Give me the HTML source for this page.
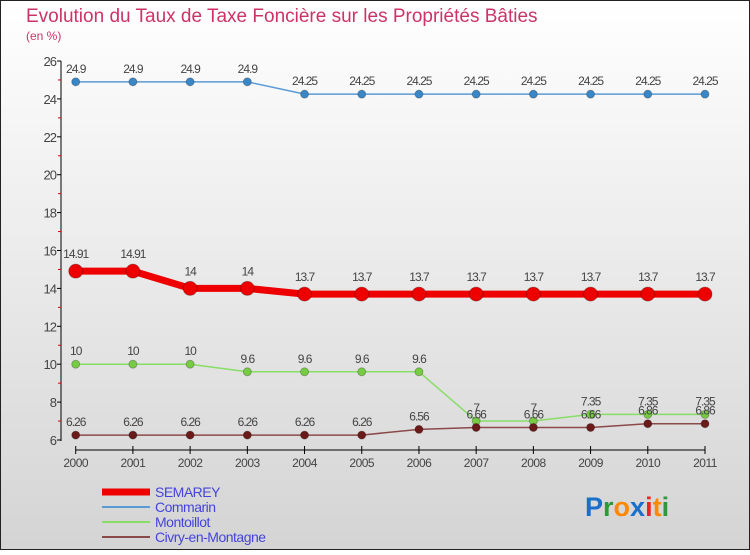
<!DOCTYPE html>
<html><head><meta charset="utf-8"><style>
body{margin:0;width:750px;height:550px;overflow:hidden;font-family:"Liberation Sans","DejaVu Sans",sans-serif}
</style></head><body>
<svg id="c" width="750" height="550" xmlns="http://www.w3.org/2000/svg">
<defs><linearGradient id="bg" x1="0" y1="0" x2="0" y2="1"><stop offset="0" stop-color="#ffffff"/><stop offset="1" stop-color="#d4d4d4"/></linearGradient></defs>
<rect x="0.5" y="0.5" width="749" height="549" fill="url(#bg)" stroke="#222"/>
<text x="26" y="22" font-size="19" fill="#cc3366">Evolution du Taux de Taxe Foncière sur les Propriétés Bâties</text>
<text x="26" y="40" font-size="12" fill="#cc3366">(en %)</text>
<g id="axes"></g><g id="series"></g><g id="legend"></g>
<text x="585" y="516" font-size="27" font-weight="bold"><tspan fill="#1a6fcc">P</tspan><tspan fill="#2a9a3a">r</tspan><tspan fill="#ff8800">o</tspan><tspan fill="#1a6fcc">x</tspan><tspan fill="#ee2222">i</tspan><tspan fill="#ff8800">t</tspan><tspan fill="#2a9a3a">i</tspan></text>
</svg>
<script>
const years=["2000","2001","2002","2003","2004","2005","2006","2007","2008","2009","2010","2011"];
const yTicks=[6,8,10,12,14,16,18,20,22,24,26];
const semarey=[14.91,14.91,14,14,13.7,13.7,13.7,13.7,13.7,13.7,13.7,13.7];
const commarin=[24.9,24.9,24.9,24.9,24.25,24.25,24.25,24.25,24.25,24.25,24.25,24.25];
const montoillot=[10,10,10,9.6,9.6,9.6,9.6,7,7,7.35,7.35,7.35];
const civry=[6.26,6.26,6.26,6.26,6.26,6.26,6.56,6.66,6.66,6.66,6.86,6.86];
const NS="http://www.w3.org/2000/svg";
const X=i=>75.7+i*(705-75.7)/11;
const Y=v=>440-(v-6)*(440-61)/20;
function mk(t,a,p){const e=document.createElementNS(NS,t);for(const k in a)e.setAttribute(k,a[k]);p.appendChild(e);return e;}
const ax=document.getElementById('axes');
const yl=mk('line',{x1:61,y1:61,x2:61,y2:441,stroke:'#000'},ax);


for(let v=7;v<26;v+=2){mk('line',{x1:58,x2:61,y1:Y(v),y2:Y(v),stroke:'#d00'},ax);}
yTicks.forEach(v=>{mk('line',{x1:57,x2:61,y1:Y(v),y2:Y(v),stroke:'#000'},ax);
const t=mk('text',{x:56,y:Y(v)+5,'font-size':13,'text-anchor':'end',fill:'#444','letter-spacing':'-1'},ax);t.textContent=v;

});
const xl=mk('line',{x1:X(0),y1:450,x2:X(11),y2:450,stroke:'#000'},ax);


years.forEach((y,i)=>{mk('line',{x1:X(i),x2:X(i),y1:446,y2:454,stroke:'#000'},ax);
const t=mk('text',{x:X(i),y:467,'font-size':12,'text-anchor':'middle',fill:'#444','letter-spacing':'-0.5'},ax);t.textContent=y;

});
const sg=document.getElementById('series');
function series(name,data,color,dot,w,r){
const g=mk('g',{},sg);


mk('polyline',{points:data.map((v,i)=>X(i)+','+Y(v)).join(' '),fill:'none',stroke:color,'stroke-width':w},g);
data.forEach((v,i)=>{const c=mk('circle',{cx:X(i),cy:Y(v),r:r,fill:dot,stroke:'rgba(0,0,0,0.25)'},g);


const t=mk('text',{x:X(i),y:Y(v)-9-(r>4?4:0),'font-size':12,'text-anchor':'middle',fill:'#444','letter-spacing':'-1'},g);
t.textContent=String(v);

});}
series('commarin',commarin,'#5b9bd5','#3a87c8',1.5,4);
series('montoillot',montoillot,'#88dd66','#77cc44',1.5,4);
series('civry',civry,'#8b4a4a','#6b1a1a',1.5,4);
series('semarey',semarey,'#ee0000','#ee0000',7,7);
const lg=document.getElementById('legend');
const items=[['SEMAREY','#ee0000',7],['Commarin','#5b9bd5',2],['Montoillot','#88dd66',2],['Civry-en-Montagne','#8b4a4a',2]];
items.forEach((it,k)=>{const y=492+k*15;
const g=mk('g',{},lg);


mk('line',{x1:102,x2:150,y1:y,y2:y,stroke:it[1],'stroke-width':it[2]},g);
const t=mk('text',{x:155,y:y+5,'font-size':14,fill:'#4444dd','letter-spacing':'-0.5'},g);t.textContent=it[0];});
</script>
</body></html>
